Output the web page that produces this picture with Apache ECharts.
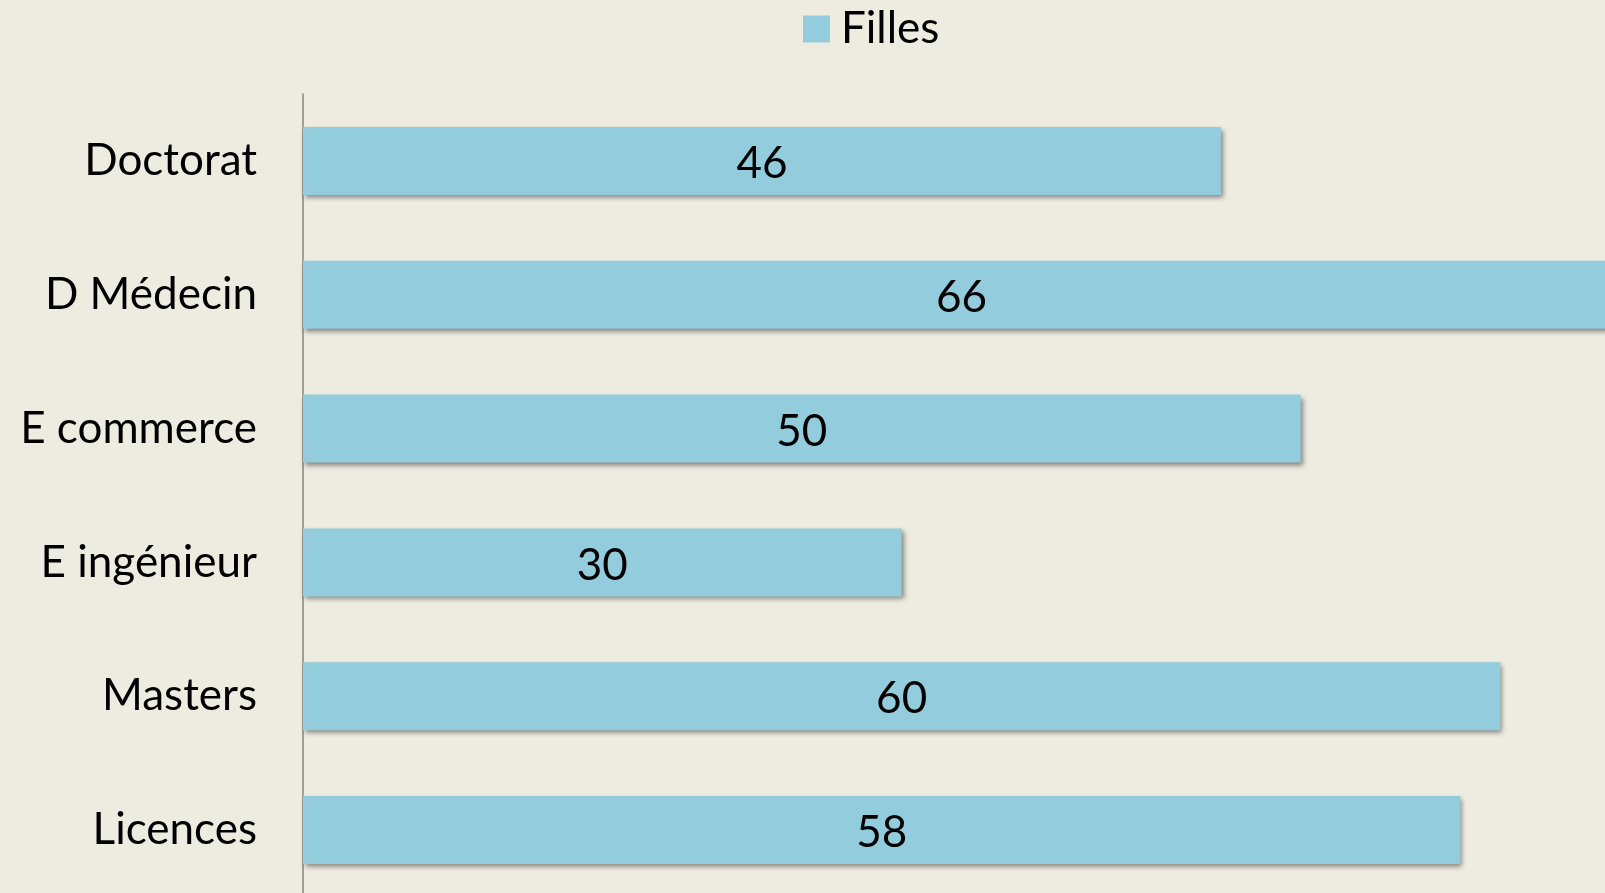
<!DOCTYPE html>
<html>
<head>
<meta charset="utf-8">
<script src="https://cdn.jsdelivr.net/npm/echarts@6/dist/echarts.min.js"></script>
<style>
html,body{margin:0;padding:0;background:#EEEBE0;}
#c{width:1605px;height:893px;}
</style>
</head>
<body>
<div id="c"></div>
<script>
const categories = ["Doctorat", "D Médecin", "E commerce", "E ingénieur", "Masters", "Licences"];
const filles = [46, 66, 50, 30, 60, 58];
const seriesName = "Filles";

const FONT = "Lato, 'Open Sans', sans-serif";
const chart = echarts.init(document.getElementById('c'));
chart.setOption({
  backgroundColor: '#EEEBE0',
  animation: false,
  legend: {
    data: [seriesName],
    left: 798,
    top: 2,
    itemWidth: 27,
    itemHeight: 27,
    itemGap: 10,
    textStyle: { fontFamily: FONT, fontSize: 44, color: '#000', padding: [0, 0, 0, 6] },
    icon: 'rect'
  },
  grid: { left: 303, top: 94, width: 1317, height: 803, containLabel: false, outerBoundsMode: 'none' },
  xAxis: {
    type: 'value', min: 0, max: 66,
    show: false,
    splitLine: { show: false }
  },
  yAxis: {
    type: 'category',
    data: categories,
    inverse: true,
    axisLine: { show: true, lineStyle: { color: '#868686', width: 1.5 } },
    axisTick: { show: false },
    axisLabel: { fontFamily: FONT, fontSize: 44, color: '#000', margin: 46 }
  },
  series: [{
    name: seriesName,
    type: 'bar',
    data: filles,
    barWidth: 68,
    clip: false,
    itemStyle: {
      color: '#93CDDD',
      shadowColor: 'rgba(0,0,0,0.45)',
      shadowBlur: 5,
      shadowOffsetX: 2,
      shadowOffsetY: 3
    },
    label: {
      show: true,
      position: 'inside',
      fontFamily: FONT,
      fontSize: 44,
      color: '#000',
      offset: [0, 3]
    }
  }]
});
</script>
</body>
</html>
